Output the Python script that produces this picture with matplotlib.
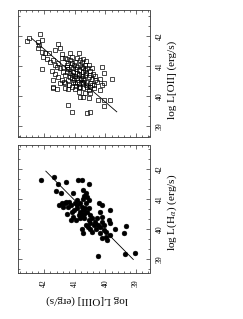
import matplotlib
matplotlib.use("Agg")
import matplotlib.pyplot as plt
from matplotlib.ticker import MultipleLocator

plt.rcParams['font.family'] = ['Liberation Serif', 'DejaVu Serif']
plt.rcParams['mathtext.fontset'] = 'stix'

# ---- data: panel with L[OII] (open squares) ----
oii_oiii = [42.56, 42.50, 42.14, 42.09, 42.20, 42.16, 42.20, 42.09, 41.98, 41.84,
            41.54, 41.65, 41.49, 41.43, 41.16, 40.88, 42.03, 41.92, 41.81, 41.70,
            41.54, 41.43, 41.32, 41.10, 42.09, 41.76, 41.65, 41.70, 41.54, 41.38,
            41.27, 41.21, 41.10, 40.99, 40.83, 40.72, 40.63, 40.55, 40.44, 40.12,
            40.06, 39.79, 40.41, 40.52, 40.66, 40.77, 40.92, 41.05, 41.16, 41.32,
            41.43, 41.49, 41.70, 41.73, 41.59, 41.32, 41.21, 41.10, 40.99, 40.88,
            40.77, 40.66, 40.55, 40.44, 40.34, 40.36, 40.12, 40.06, 40.83, 40.72,
            40.61, 40.50, 40.99, 40.92, 40.83, 40.72, 40.54, 40.50, 40.23, 40.06,
            39.86, 40.04, 41.21, 41.10, 40.59, 40.50,
            41.21, 41.13, 41.05, 40.96, 40.85, 40.74, 40.63, 40.92, 40.81, 40.70,
            40.59, 41.07, 40.96, 40.85, 40.74, 40.63, 40.52, 41.16, 41.27, 41.38,
            41.49, 41.59, 41.65, 41.18, 41.32, 40.99, 40.88, 40.66, 40.39, 40.28,
            40.17, 40.19, 40.77, 40.94, 41.16, 41.27,
            41.27, 41.03, 40.83, 40.66, 41.10, 40.85, 40.72, 40.50, 41.03, 40.77,
            40.88, 41.10, 41.21, 40.55, 40.44, 40.34, 40.94, 40.72, 40.59, 41.35]
oii = [41.84, 41.94, 42.06, 41.87, 41.81, 41.70, 41.59, 41.48, 41.44, 41.42,
       41.72, 41.53, 41.59, 41.40, 41.42, 41.44, 41.31, 41.22, 41.14, 41.20,
       41.09, 41.26, 41.26, 41.29, 40.89, 40.84, 40.73, 40.53, 40.62, 40.98,
       41.03, 40.89, 41.09, 41.14, 41.20, 41.22, 41.18, 41.03, 40.92, 40.98,
       40.78, 40.56, 40.73, 40.84, 40.87, 40.98, 40.98, 40.92, 40.76, 40.70,
       40.53, 40.42, 40.29, 40.26, 40.22, 40.42, 40.53, 40.59, 40.67, 40.73,
       40.67, 40.70, 40.64, 40.56, 40.67, 40.37, 40.37, 40.42, 40.29, 40.26,
       40.29, 40.31, 40.42, 40.48, 39.96, 39.96, 39.92, 40.11, 39.87, 39.87,
       39.87, 39.67, 39.69, 39.46, 39.44, 39.48,
       41.09, 40.98, 40.81, 40.89, 40.87, 40.81, 40.76, 40.59, 40.56, 40.53,
       40.48, 40.48, 40.33, 40.40, 40.42, 40.37, 40.44, 40.64, 40.81, 40.81,
       40.92, 40.98, 41.03, 40.37, 40.26, 40.22, 40.14, 40.11, 40.26, 40.48,
       40.56, 40.20, 41.14, 41.26, 41.20, 41.22,
       40.98, 41.03, 41.03, 41.03, 40.70, 40.70, 40.59, 40.70, 40.53, 40.48,
       40.31, 40.31, 40.22, 40.20, 40.37, 40.53, 40.76, 40.92, 40.92, 40.48]
fit_oii = [41.92, 39.47]
fit_oii_oiii = [42.41, 39.63]

# ---- data: panel with L(H alpha) (filled circles) ----
ha_oiii = [42.12, 41.67, 41.54, 41.63, 41.46, 41.30, 40.90, 40.78, 40.55, 41.05,
           41.51, 41.30, 41.19, 41.12, 41.23, 41.38, 40.99, 40.63, 40.69, 40.59,
           40.74, 40.92, 40.83, 40.64, 40.55, 40.94, 40.77, 40.66, 40.55, 40.83,
           40.70, 40.59, 40.50, 40.88, 41.05, 41.12, 40.96, 40.83, 40.69, 40.55,
           40.44, 40.21, 40.11, 40.19, 39.84, 40.11, 39.90, 39.84, 40.04, 39.68,
           40.26, 40.17, 40.06, 39.97, 40.32, 40.77, 40.74, 40.50, 40.44, 40.12,
           39.95, 39.86, 39.32, 39.38, 40.25, 39.37, 39.02, 40.34, 40.28, 40.39,
           40.63, 40.58, 41.27, 41.10, 41.03, 40.74, 40.52, 40.12, 41.32, 41.43,
           40.80, 40.72, 40.92, 39.97, 40.17]
halpha = [41.63, 41.76, 41.51, 41.27, 41.20, 41.58, 41.66, 41.66, 41.51, 41.20,
          40.81, 40.90, 40.92, 40.81, 40.73, 40.76, 40.87, 41.22, 41.11, 41.09,
          41.01, 40.98, 40.87, 40.87, 40.98, 40.70, 40.76, 40.70, 40.70, 40.59,
          40.53, 40.59, 40.48, 40.48, 40.42, 40.31, 40.31, 40.37, 40.37, 40.31,
          40.37, 40.87, 40.81, 40.59, 40.64, 40.42, 40.31, 40.22, 40.14, 40.00,
          40.14, 40.07, 39.98, 39.92, 40.00, 40.01, 39.87, 40.00, 39.92, 39.70,
          39.64, 39.81, 40.12, 39.87, 39.11, 39.17, 39.23, 40.26, 40.37, 40.14,
          40.14, 40.07, 40.53, 40.59, 40.64, 41.31, 40.20, 40.26, 40.87, 40.87,
          40.48, 40.64, 40.81, 39.76, 39.87]
fit_ha = [41.94, 39.00]
fit_ha_oiii = [41.95, 39.09]

tick_vals = [39, 40, 41, 42]
xlabel_txt = 'log L[OIII] (erg/s)'
ylabel_top = 'log L[OII] (erg/s)'
ylabel_bot = r'log L(H$_\alpha$) (erg/s)'

fig = plt.figure(figsize=(2.43, 3.19), dpi=100)
W, H = 243.0, 319.0


def fa(x0, y0, x1, y1):
    return [x0 / W, 1 - y1 / H, (x1 - x0) / W, (y1 - y0) / H]


ax1 = fig.add_axes(fa(18, 10, 149.5, 137.3))
ax2 = fig.add_axes(fa(18, 144.7, 149.5, 272.7))


def style(ax, ylim):
    ax.set_xlim(42.86, 38.56)
    ax.set_ylim(*ylim)
    ax.set_xticks(tick_vals)
    ax.set_yticks(tick_vals)
    ax.xaxis.set_minor_locator(MultipleLocator(0.2))
    ax.yaxis.set_minor_locator(MultipleLocator(1 / 3))
    ax.tick_params(which='both', direction='in', top=True, bottom=True,
                   left=True, right=True, width=0.5, color='#333333')
    ax.tick_params(which='major', length=3.2)
    ax.tick_params(which='minor', length=1.6)
    ax.tick_params(axis='y', labelleft=False, labelright=True,
                   labelrotation=90, labelsize=5.5, pad=4.5)
    ax.tick_params(axis='x', labelrotation=90, labelsize=5.5, pad=4.5)
    for t in ax.get_yticklabels():
        t.set_verticalalignment('center')
    for s in ax.spines.values():
        s.set_linewidth(0.6)
        s.set_color('#333333')


style(ax1, (38.62, 42.87))
style(ax2, (38.56, 42.82))
ax1.tick_params(axis='x', labelbottom=False)

ax1.plot(oii_oiii, oii, linestyle='none', marker='s', markersize=3.3,
         markerfacecolor='none', markeredgecolor='black', markeredgewidth=0.5)
ax1.plot(fit_oii_oiii, fit_oii, color='black', linewidth=0.6)

ax2.plot(ha_oiii, halpha, linestyle='none', marker='o', markersize=3.5,
         markerfacecolor='black', markeredgecolor='black', markeredgewidth=0.3)
ax2.plot(fit_ha_oiii, fit_ha, color='black', linewidth=0.6)

fig.text(172 / W, 1 - 80 / H, ylabel_top, rotation=90, ha='center',
         va='center', fontsize=8)
fig.text(172 / W, 1 - 212.5 / H, ylabel_bot, rotation=90, ha='center',
         va='center', fontsize=8)
fig.text(87.5 / W, 1 - 300 / H, xlabel_txt, rotation=180, ha='center',
         va='center', fontsize=8)

fig.savefig('out.png', dpi=100)
